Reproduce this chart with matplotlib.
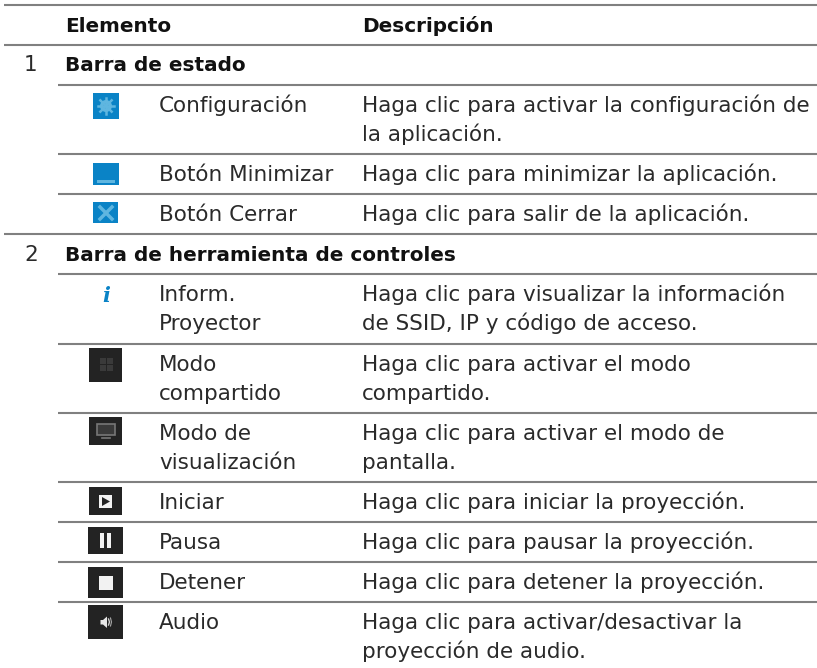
import matplotlib
matplotlib.use("Agg")
import matplotlib.pyplot as plt
from matplotlib.patches import Rectangle, Polygon, Circle
import math

W, H = 817, 668

# Tabla: filas de la segunda y tercera columna
headers = ["Elemento", "Descripción"]
sections = ["Barra de estado", "Barra de herramienta de controles"]
section_nums = ["1", "2"]
names = [
    ["Configuración"],
    ["Botón Minimizar"],
    ["Botón Cerrar"],
    ["Inform.", "Proyector"],
    ["Modo", "compartido"],
    ["Modo de", "visualización"],
    ["Iniciar"],
    ["Pausa"],
    ["Detener"],
    ["Audio"],
]
descriptions = [
    ["Haga clic para activar la configuración de", "la aplicación."],
    ["Haga clic para minimizar la aplicación."],
    ["Haga clic para salir de la aplicación."],
    ["Haga clic para visualizar la información", "de SSID, IP y código de acceso."],
    ["Haga clic para activar el modo", "compartido."],
    ["Haga clic para activar el modo de", "pantalla."],
    ["Haga clic para iniciar la proyección."],
    ["Haga clic para pausar la proyección."],
    ["Haga clic para detener la proyección."],
    ["Haga clic para activar/desactivar la", "proyección de audio."],
]
row_tops = [85, 154, 194, 274, 344, 413, 482, 522, 562, 602]
full_lines = [5, 45, 234]

plt.rcParams['font.family'] = ['DejaVu Sans']
fig = plt.figure(figsize=(W / 100, H / 100), dpi=100)
ax = fig.add_axes([0, 0, 1, 1])
ax.set_xlim(0, W)
ax.set_ylim(H, 0)
ax.axis("off")

LINE = "#808080"
BLUE = "#0a83c6"
LIGHT = "#5fb6e0"
DARK = "#232323"
FS = 15.45
FB = 14.4
TXT = "#2a2a2a"

for y in full_lines:
    ax.plot([4, W], [y, y], color=LINE, lw=1.5, solid_capstyle="butt")
for y in row_tops:
    ax.plot([58, W], [y, y], color=LINE, lw=1.5, solid_capstyle="butt")

ax.text(65, 32, headers[0], fontsize=FB, fontweight="bold", va="baseline", color="#111111")
ax.text(362, 32, headers[1], fontsize=FB, fontweight="bold", va="baseline", color="#111111")
ax.text(31, 71, section_nums[0], fontsize=FS, va="baseline", ha="center", color=TXT)
ax.text(65, 71, sections[0], fontsize=FB, fontweight="bold", va="baseline", color="#111111")
ax.text(31, 261, section_nums[1], fontsize=FS, va="baseline", ha="center", color=TXT)
ax.text(65, 261, sections[1], fontsize=FB, fontweight="bold", va="baseline", color="#111111")

for top, nm, desc in zip(row_tops, names, descriptions):
    for i, t in enumerate(nm):
        ax.text(159, top + 27 + i * 29, t, fontsize=FS, va="baseline", color=TXT)
    for i, t in enumerate(desc):
        ax.text(362, top + 27 + i * 29, t, fontsize=FS, va="baseline", color=TXT)

def box(x0, y0, x1, y1, color):
    ax.add_patch(Rectangle((x0, y0), x1 - x0, y1 - y0, fc=color, ec="none"))

# iconos azules
box(93, 93, 119, 119, BLUE)
for k in range(4):
    a = k * math.pi / 4
    ax.plot([106 - 8 * math.cos(a), 106 + 8 * math.cos(a)],
            [106 - 8 * math.sin(a), 106 + 8 * math.sin(a)], color=LIGHT, lw=1.8)
ax.add_patch(Circle((106, 106), 6, fc=LIGHT, ec="none"))
ax.add_patch(Circle((106, 106), 2.4, fc=BLUE, ec="none"))
box(93, 163, 119, 185, BLUE)
box(97, 180, 115, 183, LIGHT)
box(93, 202, 118, 223, BLUE)
ax.plot([100, 112], [207, 219], color=LIGHT, lw=2.5)
ax.plot([100, 112], [219, 207], color=LIGHT, lw=2.5)
ax.text(106, 302, "i", fontsize=15, color=BLUE, ha="center", va="baseline",
        family="DejaVu Serif", fontweight="bold", style="italic")

# iconos oscuros
box(89, 348, 122, 382, DARK)
for dx in (100, 107):
    for dy in (358, 365):
        box(dx, dy, dx + 6, dy + 6, "#3a3a3a")
box(89, 417, 122, 445, DARK)
ax.add_patch(Rectangle((97, 424), 18, 11, fc="#3a3a3a", ec="#777777", lw=1.2))
ax.plot([102, 110], [438, 438], color="#777777", lw=1.2)
box(89, 487, 122, 515, DARK)
box(99, 495, 112, 508, "#f2f2f2")
ax.add_patch(Polygon([[102, 497], [102, 506], [110, 501.5]], fc=DARK, ec="none"))
box(88, 527, 123, 554, DARK)
box(100.5, 533, 104.5, 548, "#f2f2f2")
box(107, 533, 111, 548, "#f2f2f2")
box(88, 567, 123, 598, DARK)
box(99, 576, 113, 590, "#f2f2f2")
box(88, 605, 123, 639, DARK)
ax.add_patch(Polygon([[100.5, 620], [103, 620], [107, 616.5], [107, 628], [103, 624.5], [100.5, 624.5]],
                     fc="#e8e8e8", ec="none"))
ax.plot([108.5, 109.5, 108.5], [619, 622, 625], color="#cfcfcf", lw=1)
ax.plot([110.5, 111.5, 110.5], [618, 622, 626], color="#aaaaaa", lw=0.8)

fig.savefig("out.png", dpi=100)
